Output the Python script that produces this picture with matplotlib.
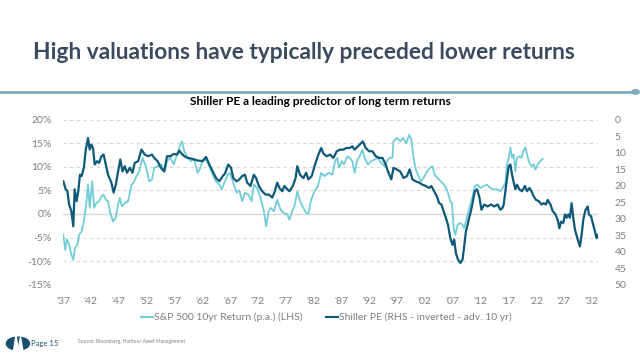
import matplotlib
matplotlib.use("Agg")
import matplotlib.pyplot as plt
from matplotlib.patches import Circle, Polygon
from matplotlib.lines import Line2D

plt.rcParams['font.family'] = ['Lato', 'DejaVu Sans']

# S&P 500 10yr return (p.a.), %  -- left axis
sp_years = [1937.06, 1937.4, 1937.7, 1938.1, 1938.5, 1938.85, 1939.15, 1939.6, 1939.9, 1940.35,
            1940.75, 1941.1, 1941.5, 1941.8, 1942.25, 1942.6, 1943.0, 1943.5, 1943.9, 1944.3,
            1944.7, 1945.1, 1945.5, 1946.0, 1946.5, 1946.9, 1947.2, 1947.6, 1948.1, 1948.7,
            1949.3, 1949.7, 1950.2, 1950.7, 1951.3, 1951.9, 1952.5, 1953.0, 1953.4, 1954.0,
            1954.7, 1955.2, 1955.7, 1956.3, 1956.9, 1957.5, 1958.1, 1958.4, 1958.8, 1959.4,
            1960.0, 1960.6, 1961.2, 1961.7, 1962.1, 1962.7, 1963.3, 1963.9, 1964.5, 1965.1,
            1965.5, 1966.0, 1966.6, 1967.0, 1967.6, 1968.2, 1968.7, 1969.2, 1969.7, 1970.3,
            1970.9, 1971.3, 1971.9, 1972.5, 1973.1, 1973.5, 1973.9, 1974.3, 1974.9, 1975.5,
            1976.1, 1976.7, 1977.3, 1977.7, 1978.2, 1978.6, 1979.1, 1979.6, 1980.2, 1980.7,
            1981.1, 1981.6, 1982.2, 1982.8, 1983.4, 1984.0, 1984.5, 1984.8, 1985.4, 1985.9,
            1986.3, 1986.6, 1987.1, 1987.5, 1988.1, 1988.5, 1989.0, 1989.4, 1989.9, 1990.3,
            1990.8, 1991.2, 1991.8, 1992.4, 1993.0, 1993.6, 1994.2, 1994.8, 1995.2, 1995.7,
            1996.2, 1996.4, 1997.0, 1997.6, 1998.1, 1998.7, 1999.2, 1999.6, 2000.0, 2000.4,
            2000.9, 2001.3, 2001.8, 2002.4, 2003.0, 2003.4, 2003.8, 2004.3, 2004.9, 2005.5,
            2006.1, 2006.6, 2006.9, 2007.2, 2007.5, 2007.9, 2008.4, 2008.8, 2009.1, 2009.4,
            2009.7, 2010.2, 2010.6, 2011.0, 2011.5, 2012.0, 2012.6, 2013.2, 2013.8, 2014.4,
            2015.0, 2015.6, 2016.0, 2016.2, 2016.5, 2016.8, 2017.1, 2017.4, 2017.7, 2018.0,
            2018.3, 2018.6, 2019.0, 2019.4, 2019.8, 2020.1, 2020.4, 2020.8, 2021.2, 2021.6,
            2021.9, 2022.3, 2022.8, 2023.2]
sp_return = [-4.4, -7.6, -5.4, -6.5, -8.6, -9.7, -7.2, -6.5, -4.4, -3.7,
             -1.6, 1.3, 6.2, 1.3, 6.9, 1.3, 2.3, 2.7, 3.7, 4.1,
             3.0, 2.7, 0.2, -1.6, -0.8, 2.0, 3.4, 1.6, 2.3, 2.7,
             6.2, 6.6, 8.0, 9.0, 11.9, 10.1, 6.9, 7.3, 9.8, 10.1,
             10.5, 9.0, 11.2, 11.9, 10.5, 12.6, 14.7, 15.4, 13.3, 11.9,
             11.2, 11.5, 8.7, 9.8, 11.5, 11.5, 10.1, 8.3, 6.9, 6.2,
             5.2, 6.6, 8.3, 8.7, 6.6, 4.5, 5.0, 2.7, 4.5, 4.1,
             2.7, 6.2, 5.5, 3.4, 0.6, -2.6, 0.2, 1.3, 0.6, 3.0,
             0.9, 0.2, -0.1, -1.2, 0.6, 1.6, 4.8, 2.7, 1.3, 0.2,
             0.0, 3.0, 4.8, 5.9, 8.7, 8.0, 8.5, 8.7, 8.3, 11.2,
             11.9, 9.8, 11.2, 10.5, 12.2, 11.9, 11.2, 8.7, 11.5, 12.2,
             13.6, 11.9, 10.5, 11.2, 11.5, 11.9, 10.8, 10.1, 11.2, 11.9,
             11.9, 15.4, 16.1, 15.4, 16.1, 15.0, 16.8, 15.8, 11.9, 9.4,
             8.0, 6.9, 7.6, 9.0, 9.8, 10.1, 8.3, 7.6, 6.9, 6.2,
             4.8, 2.7, 2.3, -3.0, -4.4, -2.3, -1.9, -2.3, -3.0, -1.6,
             -0.1, 2.0, 3.7, 5.9, 6.2, 5.5, 5.9, 6.2, 5.5, 5.2,
             5.2, 4.8, 5.5, 5.9, 6.6, 10.5, 11.9, 14.1, 11.9, 12.6,
             9.0, 11.9, 12.2, 11.9, 13.6, 14.1, 12.6, 10.8, 10.1, 10.5,
             9.4, 10.5, 11.2, 11.7]

# Shiller PE advanced 10 years -- right axis, inverted
pe_years = [1937.06, 1937.5, 1937.8, 1938.1, 1938.5, 1938.85, 1939.1, 1939.45, 1939.75, 1940.05,
            1940.35, 1940.75, 1941.1, 1941.5, 1941.8, 1942.1, 1942.4, 1942.7, 1943.1, 1943.5,
            1943.9, 1944.3, 1944.7, 1945.1, 1945.7, 1946.1, 1946.5, 1946.9, 1947.3, 1947.7,
            1948.1, 1948.5, 1949.0, 1949.5, 1949.9, 1950.5, 1951.1, 1951.7, 1952.3, 1953.0,
            1953.4, 1954.0, 1954.6, 1955.2, 1955.7, 1956.3, 1956.9, 1957.5, 1957.9, 1958.2,
            1958.8, 1959.4, 1960.3, 1961.2, 1962.1, 1962.7, 1963.3, 1963.9, 1964.5, 1965.1,
            1965.7, 1966.1, 1966.7, 1967.2, 1967.6, 1968.2, 1968.7, 1969.2, 1969.7, 1970.1,
            1970.7, 1971.3, 1971.7, 1972.2, 1972.8, 1973.4, 1974.0, 1974.6, 1975.0, 1975.5,
            1975.9, 1976.4, 1976.8, 1977.3, 1977.7, 1978.3, 1978.8, 1979.1, 1979.6, 1980.2,
            1980.7, 1981.1, 1981.7, 1982.3, 1982.9, 1983.4, 1983.8, 1984.4, 1985.0, 1985.6,
            1986.2, 1986.8, 1987.4, 1987.9, 1988.5, 1989.0, 1989.4, 1990.0, 1990.6, 1990.9,
            1991.4, 1992.0, 1992.6, 1993.2, 1993.8, 1994.4, 1995.0, 1995.4, 1996.0, 1996.4,
            1997.0, 1997.6, 1998.2, 1998.8, 1999.3, 1999.8, 2000.4, 2001.0, 2001.6, 2002.2,
            2002.8, 2003.2, 2003.7, 2004.2, 2004.6, 2005.0, 2005.5, 2005.8, 2006.2, 2006.6,
            2007.0, 2007.3, 2007.6, 2008.0, 2008.4, 2008.8, 2009.1, 2009.4, 2009.7, 2010.0,
            2010.3, 2010.6, 2011.0, 2011.4, 2011.8, 2012.2, 2012.7, 2013.3, 2013.9, 2014.5,
            2015.1, 2015.6, 2016.0, 2016.2, 2016.5, 2016.8, 2017.1, 2017.4, 2017.7, 2018.0,
            2018.3, 2018.6, 2019.0, 2019.5, 2020.0, 2020.4, 2020.8, 2021.2, 2021.6, 2022.0,
            2022.5, 2023.0, 2023.4, 2023.8, 2024.1, 2024.6, 2025.0, 2025.5, 2025.9, 2026.2,
            2026.5, 2026.9, 2027.2, 2027.5, 2027.8, 2028.1, 2028.4, 2028.7, 2029.0, 2029.5,
            2029.9, 2030.2, 2030.5, 2030.9, 2031.3, 2031.5, 2031.9, 2032.3, 2032.6, 2032.9,
            2033.1]
shiller_pe = [18.7, 21.1, 21.7, 25.7, 27.7, 32.3, 21.1, 24.7, 21.7, 16.7,
              17.1, 14.6, 9.1, 5.6, 9.1, 7.6, 8.6, 13.6, 12.6, 13.1,
              11.1, 10.6, 13.6, 16.7, 19.1, 22.1, 19.7, 15.7, 12.1, 15.7,
              14.1, 16.1, 14.6, 16.1, 13.1, 12.6, 9.1, 10.6, 11.1, 10.6,
              11.6, 12.6, 14.6, 15.7, 11.1, 11.1, 10.4, 10.6, 9.4, 10.1,
              11.1, 11.6, 11.9, 12.4, 12.6, 11.3, 13.6, 15.7, 17.7, 18.7,
              17.1, 16.4, 13.6, 14.6, 17.7, 18.7, 18.1, 17.1, 16.7, 19.1,
              20.1, 16.7, 17.7, 20.1, 21.7, 22.7, 22.7, 23.6, 22.1, 19.1,
              20.7, 21.7, 20.1, 21.1, 21.7, 20.1, 17.7, 14.1, 16.7, 17.7,
              16.1, 18.1, 17.1, 13.6, 10.6, 8.6, 10.3, 11.1, 10.6, 11.6,
              9.6, 9.1, 9.1, 8.6, 8.6, 8.1, 9.1, 8.1, 7.1, 6.6,
              8.6, 9.6, 9.6, 11.1, 11.6, 11.6, 13.6, 15.7, 18.1, 14.6,
              15.1, 15.7, 17.7, 17.1, 15.1, 18.1, 18.7, 19.1, 19.7, 20.1,
              20.7, 20.1, 21.7, 23.3, 25.3, 25.7, 28.3, 29.7, 31.9, 35.9,
              37.9, 36.3, 40.4, 42.4, 43.4, 42.4, 38.4, 33.9, 31.9, 29.7,
              27.7, 25.3, 21.7, 21.1, 23.3, 27.3, 25.7, 26.3, 25.7, 26.3,
              25.7, 27.3, 26.7, 25.7, 21.7, 17.7, 14.1, 13.6, 16.7, 19.1,
              21.1, 19.7, 21.1, 21.7, 20.1, 21.7, 20.7, 21.7, 23.3, 24.3,
              24.7, 25.7, 25.3, 25.7, 24.3, 25.7, 27.7, 28.7, 30.3, 32.9,
              30.9, 31.3, 28.7, 29.7, 28.7, 29.7, 25.3, 29.7, 33.3, 36.3,
              38.4, 34.9, 30.3, 27.3, 26.3, 28.7, 29.3, 31.9, 33.9, 35.9,
              34.9]

ret_ticks = [20, 15, 10, 5, 0, -5, -10, -15]
pe_ticks = [0, 5, 10, 15, 20, 25, 30, 35, 40, 45, 50]
year_ticks = list(range(1937, 2033, 5))

light = '#72cdd8'
dark = '#0e5878'
grey = '#7f7f7f'

fig = plt.figure(figsize=(6.4, 3.59), dpi=100)
fig.patch.set_facecolor('white')

# header
fig.text(0.052, 0.855, 'High valuations have typically preceded lower returns',
         fontsize=16.4, fontweight='bold', color='#3b4a5e',
         va='center', ha='left')
fig.add_artist(Line2D([0, 0.993], [0.744, 0.744], color='#7fa9bd', lw=2))
fig.add_artist(Circle((0.993, 0.744), 0.006, transform=fig.transFigure,
                      color='#7fa9bd', zorder=5))
fig.text(0.5, 0.716, 'Shiller PE a leading predictor of long term returns',
         fontsize=8.6, fontweight='bold', color='black', ha='center', va='center')

ax = fig.add_axes([0.0984, 0.2067, 0.8356, 0.4603])
ax2 = ax.twinx()

ax.plot(sp_years, sp_return, color=light, lw=1.3, zorder=3)
ax2.plot(pe_years, shiller_pe, color=dark, lw=1.6, zorder=3)

ax.set_xlim(1937, 2033.1)
ax.set_ylim(-15, 20)
ax2.set_ylim(50, 0)

ax.set_yticks(ret_ticks)
ax.set_yticklabels(['{}%'.format(t) for t in ret_ticks])
ax2.set_yticks(pe_ticks)
ax.set_xticks(year_ticks)
ax.set_xticklabels(["'{:02d}".format(y % 100) for y in year_ticks])

for t in ret_ticks:
    if t == 0:
        ax.axhline(t, color='#d9d9d9', lw=1.0, zorder=1)
    else:
        ax.axhline(t, color='#d9d9d9', lw=0.8, ls=(0, (3, 3)), zorder=1)

for a in (ax, ax2):
    for s in a.spines.values():
        s.set_visible(False)
    a.tick_params(length=0, colors=grey, labelsize=7.5)
ax.tick_params(axis='y', pad=8)
ax.tick_params(axis='x', pad=9)
ax2.tick_params(axis='y', pad=12)

handles = [Line2D([], [], color=light, lw=1.5),
           Line2D([], [], color=dark, lw=1.5)]
fig.legend(handles, ['S&P 500 10yr Return (p.a.) (LHS)',
                     'Shiller PE (RHS - inverted - adv. 10 yr)'],
           loc='center', bbox_to_anchor=(0.51, 0.115), ncol=2, frameon=False,
           fontsize=7.5, labelcolor=grey, handlelength=1.2, handletextpad=0.1,
           columnspacing=2.2)

# footer
fig.add_artist(Circle((0.028, 0.043), 0.018, transform=fig.transFigure,
                      color='#16506e'))
fig.add_artist(Polygon([[0.021, 0.02], [0.025, 0.068], [0.029, 0.02]],
                       closed=True, transform=fig.transFigure, color='white'))
fig.add_artist(Polygon([[0.028, 0.02], [0.032, 0.062], [0.036, 0.02]],
                       closed=True, transform=fig.transFigure, color='white'))
fig.text(0.048, 0.042, 'Page 15', fontsize=5.5, color='#16506e', va='center')
fig.text(0.122, 0.05, 'Source: Bloomberg, Harbour Asset Management',
         fontsize=3.6, color=grey, va='center')

fig.savefig('out.png', dpi=100)
